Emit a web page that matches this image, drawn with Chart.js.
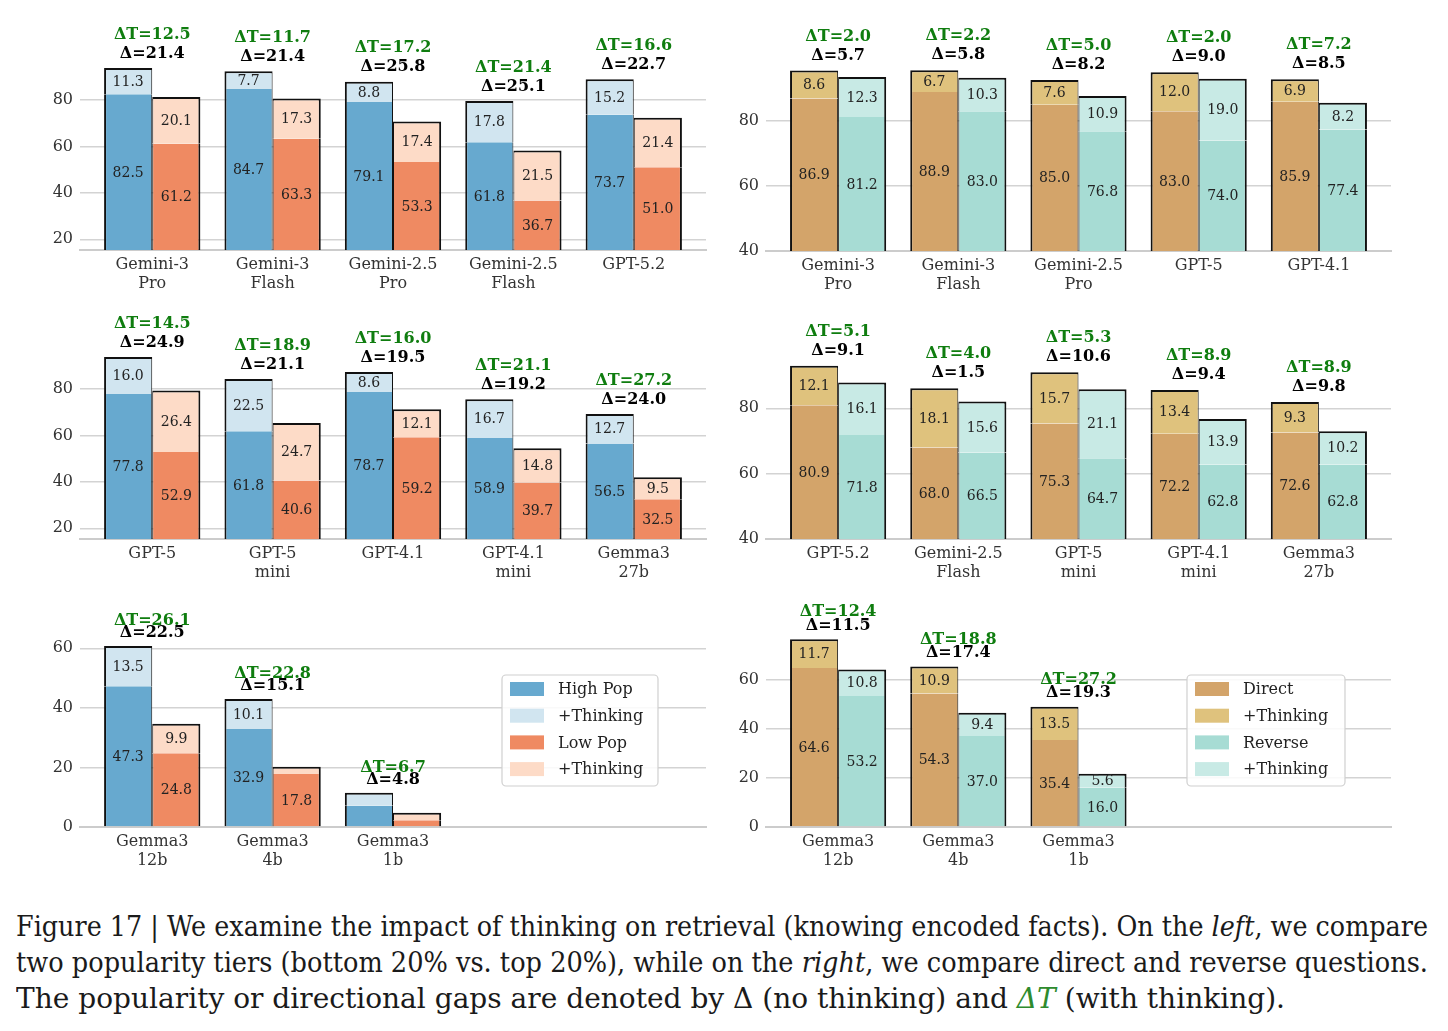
<!DOCTYPE html>
<html>
<head>
<meta charset="utf-8">
<script src="https://cdn.jsdelivr.net/npm/chart.js@4.4.1/dist/chart.umd.min.js"></script>
<style>
  body { margin: 0; background: #fff; width: 1448px; height: 1031px; position: relative; overflow: hidden; }
  canvas { position: absolute; }
  #caption { position: absolute; left: 16px; top: 909px; width: 1412px; font-family: 'DejaVu Serif', serif; font-size: 27px; line-height: 36px; color: #1a1a1a; }
  #caption .ln { display: inline-block; white-space: nowrap; transform-origin: 0 0; }
  #caption .g { color: #2e8b2e; }
</style>
</head>
<body>
<canvas id="popTop" width="720" height="300" style="left:0;top:0"></canvas>
<canvas id="dirTop" width="728" height="301" style="left:720px;top:0"></canvas>
<canvas id="popMid" width="720" height="289" style="left:0;top:300px"></canvas>
<canvas id="dirMid" width="728" height="289" style="left:720px;top:300px"></canvas>
<canvas id="popBot" width="720" height="288" style="left:0;top:589px"></canvas>
<canvas id="dirBot" width="728" height="288" style="left:720px;top:589px"></canvas>

<div id="caption">
  <div><span class="ln">Figure 17 | We examine the impact of thinking on retrieval (knowing encoded facts). On the <i>left</i>, we compare</span></div>
  <div><span class="ln">two popularity tiers (bottom 20% vs. top 20%), while on the <i>right</i>, we compare direct and reverse questions.</span></div>
  <div><span class="ln">The popularity or directional gaps are denoted by Δ (no thinking) and <i class="g">ΔT</i> (with thinking).</span></div>
</div>

<script>
// ---- left: popularity tiers ----
const popModelsTop = ['Gemini-3\nPro', 'Gemini-3\nFlash', 'Gemini-2.5\nPro', 'Gemini-2.5\nFlash', 'GPT-5.2'];
const highPopTop = [82.5, 84.7, 79.1, 61.8, 73.7];
const highThinkTop = [11.3, 7.7, 8.8, 17.8, 15.2];
const lowPopTop = [61.2, 63.3, 53.3, 36.7, 51.0];
const lowThinkTop = [20.1, 17.3, 17.4, 21.5, 21.4];
const popGapTop = [21.4, 21.4, 25.8, 25.1, 22.7];
const popGapThinkTop = [12.5, 11.7, 17.2, 21.4, 16.6];

const popModelsMid = ['GPT-5', 'GPT-5\nmini', 'GPT-4.1', 'GPT-4.1\nmini', 'Gemma3\n27b'];
const highPopMid = [77.8, 61.8, 78.7, 58.9, 56.5];
const highThinkMid = [16.0, 22.5, 8.6, 16.7, 12.7];
const lowPopMid = [52.9, 40.6, 59.2, 39.7, 32.5];
const lowThinkMid = [26.4, 24.7, 12.1, 14.8, 9.5];
const popGapMid = [24.9, 21.1, 19.5, 19.2, 24.0];
const popGapThinkMid = [14.5, 18.9, 16.0, 21.1, 27.2];

const popModelsBot = ['Gemma3\n12b', 'Gemma3\n4b', 'Gemma3\n1b'];
const highPopBot = [47.3, 32.9, 7.1];
const highThinkBot = [13.5, 10.1, 4.4];
const lowPopBot = [24.8, 17.8, 2.3];
const lowThinkBot = [9.9, 2.4, 2.5];
const popGapBot = [22.5, 15.1, 4.8];
const popGapThinkBot = [26.1, 22.8, 6.7];

// ---- right: direct vs reverse ----
const dirModelsTop = ['Gemini-3\nPro', 'Gemini-3\nFlash', 'Gemini-2.5\nPro', 'GPT-5', 'GPT-4.1'];
const directTop = [86.9, 88.9, 85.0, 83.0, 85.9];
const directThinkTop = [8.6, 6.7, 7.6, 12.0, 6.9];
const reverseTop = [81.2, 83.0, 76.8, 74.0, 77.4];
const reverseThinkTop = [12.3, 10.3, 10.9, 19.0, 8.2];
const dirGapTop = [5.7, 5.8, 8.2, 9.0, 8.5];
const dirGapThinkTop = [2.0, 2.2, 5.0, 2.0, 7.2];

const dirModelsMid = ['GPT-5.2', 'Gemini-2.5\nFlash', 'GPT-5\nmini', 'GPT-4.1\nmini', 'Gemma3\n27b'];
const directMid = [80.9, 68.0, 75.3, 72.2, 72.6];
const directThinkMid = [12.1, 18.1, 15.7, 13.4, 9.3];
const reverseMid = [71.8, 66.5, 64.7, 62.8, 62.8];
const reverseThinkMid = [16.1, 15.6, 21.1, 13.9, 10.2];
const dirGapMid = [9.1, 1.5, 10.6, 9.4, 9.8];
const dirGapThinkMid = [5.1, 4.0, 5.3, 8.9, 8.9];

const dirModelsBot = ['Gemma3\n12b', 'Gemma3\n4b', 'Gemma3\n1b'];
const directBot = [64.6, 54.3, 35.4];
const directThinkBot = [11.7, 10.9, 13.5];
const reverseBot = [53.2, 37.0, 16.0];
const reverseThinkBot = [10.8, 9.4, 5.6];
const dirGapBot = [11.5, 17.4, 19.3];
const dirGapThinkBot = [12.4, 18.8, 27.2];

// tick labels
const yTicksPop = [20, 40, 60, 80];
const yTicksDir = [40, 60, 80];
const yTicksBot = [0, 20, 40, 60];

const popLabels = ['High Pop', '+Thinking', 'Low Pop', '+Thinking'];
const dirLabels = ['Direct', '+Thinking', 'Reverse', '+Thinking'];
const popColors = ['#67a9cf', '#d1e5f0', '#ef8a62', '#fddbc7'];
const dirColors = ['#d3a46a', '#dfc27d', '#a7dcd4', '#c8eae5'];

const FONT = "'DejaVu Serif', serif";
const GREEN = '#0f7d0f';

// caption lines stretched to the widths of the original typesetting
const captionWidths = [1412, 1412, 1269];
document.querySelectorAll('#caption .ln').forEach((el, i) => {
  const w = el.getBoundingClientRect().width;
  el.style.transform = 'scaleX(' + (captionWidths[i] / w) + ')';
});

// labels inside segments, gap labels on top, and the boxed legend
const barLabels = {
  id: 'barLabels',
  afterDatasetsDraw(chart, args, opts) {
    const ctx = chart.ctx;
    const area = chart.chartArea;
    const sets = chart.data.datasets;
    ctx.save();
    ctx.textAlign = 'center';
    ctx.textBaseline = 'middle';
    ctx.font = '14px ' + FONT;
    ctx.fillStyle = '#222';
    sets.forEach((ds, di) => {
      const meta = chart.getDatasetMeta(di);
      const pair = di < 2 ? [0, 1] : [2, 3];
      meta.data.forEach((bar, i) => {
        const v = ds.data[i].y;
        const total = sets[pair[0]].data[i].y + sets[pair[1]].data[i].y;
        // tiny bars carry no numbers
        if (v < 3 || total < 15) return;
        const top = Math.max(bar.y, area.top);
        const bot = Math.min(bar.base, area.bottom);
        ctx.fillText(v.toFixed(1), bar.x, (top + bot) / 2 + 1);
      });
    });

    ctx.font = 'bold 16px ' + FONT;
    const m1 = chart.getDatasetMeta(1), m3 = chart.getDatasetMeta(3);
    opts.gap.forEach((g, i) => {
      const x = chart.scales.x.getPixelForValue(i);
      const top = Math.min(m1.data[i].y, m3.data[i].y);
      ctx.fillStyle = GREEN;
      ctx.fillText('ΔT=' + opts.gapT[i].toFixed(1), x, top - opts.off[1]);
      ctx.fillStyle = '#000';
      ctx.fillText('Δ=' + g.toFixed(1), x, top - opts.off[0]);
    });

    if (opts.legend) {
      const L = opts.legend;
      ctx.beginPath();
      ctx.roundRect(L.x, L.y, L.w, L.h, 4);
      ctx.fillStyle = 'rgba(255,255,255,0.85)';
      ctx.fill();
      ctx.strokeStyle = '#d0d0d0';
      ctx.lineWidth = 1.2;
      ctx.stroke();
      ctx.font = '16px ' + FONT;
      ctx.textAlign = 'left';
      sets.forEach((ds, di) => {
        const cy = L.y + 14 + di * 26.7;
        ctx.fillStyle = ds.backgroundColor;
        ctx.fillRect(L.x + 8, cy - 7, 34, 14);
        ctx.fillStyle = '#222';
        ctx.fillText(ds.label, L.x + 56, cy + 1);
      });
    }
    ctx.restore();
  }
};

function pts(arr) {
  return arr.map((v, i) => ({ x: i, y: v }));
}

function makePanel(id, p) {
  const edge = '#111';
  const ds = (k, vals, stack, bw) => ({
    label: p.labels[k], data: pts(vals), stack: stack,
    backgroundColor: p.colors[k], borderColor: edge,
    borderWidth: bw, borderSkipped: false
  });
  new Chart(document.getElementById(id), {
    type: 'bar',
    data: {
      datasets: [
        ds(0, p.a, 'a', { left: 2, right: 1, top: 0, bottom: 0 }),
        ds(1, p.aT, 'a', { left: 2, right: 1, top: 2, bottom: 0 }),
        ds(2, p.b, 'b', { left: 1, right: 2, top: 0, bottom: 0 }),
        ds(3, p.bT, 'b', { left: 1, right: 2, top: 2, bottom: 0 })
      ]
    },
    options: {
      responsive: false,
      animation: false,
      categoryPercentage: 0.8,
      barPercentage: 1.0,
      layout: { padding: { left: 0, right: p.padR, top: p.padTop, bottom: 0 } },
      plugins: {
        legend: { display: false },
        tooltip: { enabled: false },
        barLabels: { gap: p.gap, gapT: p.gapT, off: p.off, legend: p.legend }
      },
      scales: {
        x: {
          type: 'linear', min: -0.6, max: 4.6, bounds: 'data', offset: false,
          grid: { display: false, drawTicks: false, offset: false },
          border: { display: true, color: '#cccccc', width: 2 },
          afterBuildTicks: s => { s.ticks = p.cats.map((c, i) => ({ value: i })); },
          afterFit: s => { s.height = 50; },
          ticks: {
            callback: v => p.cats[v].split('\n'),
            font: { family: FONT, size: 16, lineHeight: 1.2 },
            color: '#333', padding: 5, maxRotation: 0, autoSkip: false
          }
        },
        y: {
          stacked: true, min: p.ymin, max: p.ymax, bounds: 'data',
          grid: { color: '#d3d3d3', lineWidth: 1.4, drawTicks: false },
          border: { display: false },
          afterBuildTicks: s => { s.ticks = p.yTicks.map(v => ({ value: v })); },
          afterFit: s => { s.width = p.yW; },
          ticks: { font: { family: FONT, size: 16 }, color: '#333', padding: 7 }
        }
      }
    },
    plugins: [barLabels]
  });
}

makePanel('popTop', {
  cats: popModelsTop, a: highPopTop, aT: highThinkTop, b: lowPopTop, bT: lowThinkTop,
  gap: popGapTop, gapT: popGapThinkTop, labels: popLabels, colors: popColors,
  yTicks: yTicksPop, ymin: 15.4, ymax: 105.84, padTop: 40, padR: 14, yW: 80, off: [14.5, 33.5]
});
makePanel('popMid', {
  cats: popModelsMid, a: highPopMid, aT: highThinkMid, b: lowPopMid, bT: lowThinkMid,
  gap: popGapMid, gapT: popGapThinkMid, labels: popLabels, colors: popColors,
  yTicks: yTicksPop, ymin: 15.4, ymax: 109.7, padTop: 20, padR: 14, yW: 80, off: [14.5, 33.5]
});
makePanel('popBot', {
  cats: popModelsBot, a: highPopBot, aT: highThinkBot, b: lowPopBot, bT: lowThinkBot,
  gap: popGapBot, gapT: popGapThinkBot, labels: popLabels, colors: popColors,
  yTicks: yTicksBot, ymin: 0, ymax: 73.2, padTop: 20, padR: 14, yW: 80, off: [13, 25],
  legend: { x: 502, y: 86, w: 156, h: 111 }
});
makePanel('dirTop', {
  cats: dirModelsTop, a: directTop, aT: directThinkTop, b: reverseTop, bT: reverseThinkTop,
  gap: dirGapTop, gapT: dirGapThinkTop, labels: dirLabels, colors: dirColors,
  yTicks: yTicksDir, ymin: 40, ymax: 104.9, padTop: 40, padR: 57, yW: 46, off: [15, 34]
});
makePanel('dirMid', {
  cats: dirModelsMid, a: directMid, aT: directThinkMid, b: reverseMid, bT: reverseThinkMid,
  gap: dirGapMid, gapT: dirGapThinkMid, labels: dirLabels, colors: dirColors,
  yTicks: yTicksDir, ymin: 40, ymax: 107, padTop: 20, padR: 57, yW: 46, off: [15, 34]
});
makePanel('dirBot', {
  cats: dirModelsBot, a: directBot, aT: directThinkBot, b: reverseBot, bT: reverseThinkBot,
  gap: dirGapBot, gapT: dirGapThinkBot, labels: dirLabels, colors: dirColors,
  yTicks: yTicksBot, ymin: 0, ymax: 88.6, padTop: 20, padR: 57, yW: 46, off: [13.5, 27],
  legend: { x: 467, y: 86, w: 158, h: 111 }
});
</script>
</body>
</html>
